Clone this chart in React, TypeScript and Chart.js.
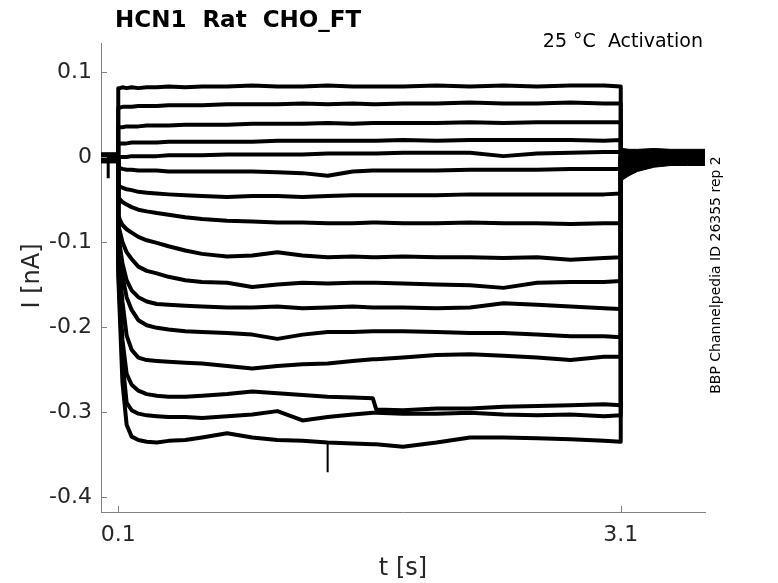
import { useEffect, useRef } from 'react';
import { Chart, registerables } from 'chart.js';

Chart.register(...registerables);

// sample times (s) of the activation step
const stepTimes = [
  0.1, 0.11, 0.125, 0.15, 0.18, 0.22, 0.27, 0.33, 0.4, 0.5, 0.6, 0.75, 0.9, 1.05,
  1.2, 1.35, 1.5, 1.62, 1.64, 1.8, 2.0, 2.2, 2.4, 2.6, 2.8, 3.0, 3.1,
];

// currents (nA) for each voltage step, top to bottom
const trace1 = [0.081, 0.081, 0.082, 0.081, 0.082, 0.081, 0.082, 0.082, 0.083, 0.082, 0.083, 0.083, 0.084, 0.083, 0.083, 0.084, 0.083, 0.083, 0.083, 0.083, 0.084, 0.083, 0.084, 0.083, 0.084, 0.084, 0.083];
const trace2 = [0.058, 0.058, 0.059, 0.059, 0.059, 0.06, 0.06, 0.06, 0.061, 0.061, 0.061, 0.062, 0.062, 0.062, 0.063, 0.062, 0.063, 0.062, 0.062, 0.063, 0.063, 0.064, 0.063, 0.063, 0.064, 0.063, 0.063];
const trace3 = [0.035, 0.035, 0.035, 0.036, 0.036, 0.036, 0.037, 0.037, 0.037, 0.038, 0.038, 0.038, 0.039, 0.039, 0.039, 0.04, 0.039, 0.04, 0.04, 0.04, 0.04, 0.041, 0.04, 0.041, 0.041, 0.041, 0.041];
const trace4 = [0.016, 0.016, 0.016, 0.016, 0.017, 0.017, 0.017, 0.017, 0.018, 0.018, 0.018, 0.018, 0.018, 0.019, 0.019, 0.019, 0.019, 0.019, 0.019, 0.02, 0.019, 0.02, 0.02, 0.02, 0.02, 0.019, 0.02];
const trace5 = [0.0, 0.0, 0.0, 0.0, 0.001, 0.001, 0.001, 0.001, 0.002, 0.002, 0.002, 0.003, 0.003, 0.003, 0.003, 0.004, 0.004, 0.004, 0.004, 0.005, 0.005, 0.005, 0.001, 0.004, 0.005, 0.006, 0.006];
const trace6 = [-0.012, -0.013, -0.014, -0.015, -0.015, -0.016, -0.016, -0.016, -0.017, -0.017, -0.017, -0.017, -0.017, -0.018, -0.019, -0.022, -0.017, -0.016, -0.016, -0.016, -0.016, -0.015, -0.015, -0.015, -0.014, -0.014, -0.014];
const trace7 = [-0.034, -0.035, -0.036, -0.038, -0.039, -0.041, -0.042, -0.043, -0.044, -0.045, -0.046, -0.047, -0.046, -0.046, -0.047, -0.046, -0.045, -0.045, -0.045, -0.045, -0.045, -0.044, -0.044, -0.044, -0.044, -0.044, -0.043];
const trace8 = [-0.047, -0.05, -0.053, -0.056, -0.059, -0.062, -0.064, -0.066, -0.068, -0.071, -0.073, -0.075, -0.076, -0.077, -0.077, -0.078, -0.078, -0.077, -0.077, -0.078, -0.078, -0.077, -0.078, -0.078, -0.079, -0.078, -0.078];
const trace9 = [-0.068, -0.074, -0.08, -0.085, -0.089, -0.094, -0.098, -0.101, -0.105, -0.11, -0.114, -0.117, -0.116, -0.112, -0.116, -0.118, -0.117, -0.118, -0.118, -0.117, -0.118, -0.118, -0.119, -0.118, -0.121, -0.119, -0.118];
const trace10 = [-0.08, -0.088, -0.1, -0.112, -0.12, -0.129, -0.134, -0.137, -0.141, -0.145, -0.147, -0.148, -0.153, -0.15, -0.148, -0.149, -0.148, -0.148, -0.148, -0.149, -0.15, -0.151, -0.154, -0.148, -0.147, -0.147, -0.146];
const trace11 = [-0.092, -0.105, -0.125, -0.145, -0.157, -0.165, -0.17, -0.173, -0.174, -0.175, -0.176, -0.177, -0.177, -0.176, -0.178, -0.177, -0.176, -0.177, -0.177, -0.177, -0.178, -0.177, -0.172, -0.174, -0.176, -0.178, -0.179];
const trace12 = [-0.1, -0.115, -0.14, -0.165, -0.18, -0.192, -0.198, -0.201, -0.203, -0.205, -0.206, -0.207, -0.209, -0.214, -0.209, -0.206, -0.206, -0.205, -0.205, -0.205, -0.206, -0.207, -0.207, -0.209, -0.211, -0.211, -0.212];
const trace13 = [-0.11, -0.135, -0.17, -0.21, -0.227, -0.236, -0.239, -0.24, -0.241, -0.242, -0.243, -0.246, -0.249, -0.246, -0.244, -0.243, -0.24, -0.238, -0.238, -0.236, -0.233, -0.232, -0.234, -0.236, -0.239, -0.235, -0.235];
const trace14 = [-0.12, -0.16, -0.215, -0.255, -0.268, -0.275, -0.279, -0.281, -0.282, -0.282, -0.281, -0.279, -0.276, -0.278, -0.28, -0.282, -0.283, -0.284, -0.297, -0.298, -0.296, -0.296, -0.294, -0.293, -0.292, -0.291, -0.292];
const trace15 = [-0.13, -0.175, -0.24, -0.289, -0.298, -0.302, -0.304, -0.305, -0.306, -0.306, -0.307, -0.305, -0.303, -0.299, -0.31, -0.306, -0.303, -0.301, -0.301, -0.302, -0.302, -0.301, -0.303, -0.304, -0.303, -0.305, -0.304];
const trace16 = [-0.14, -0.19, -0.265, -0.315, -0.329, -0.333, -0.335, -0.336, -0.334, -0.333, -0.33, -0.325, -0.33, -0.333, -0.334, -0.336, -0.337, -0.338, -0.338, -0.341, -0.336, -0.33, -0.33, -0.331, -0.332, -0.334, -0.335];

const traces = [
  trace1, trace2, trace3, trace4, trace5, trace6, trace7, trace8,
  trace9, trace10, trace11, trace12, trace13, trace14, trace15, trace16,
];

const holdingCurrent = 0;
const stepStart = 0.1;
const stepEnd = 3.1;

// holding noise band before the step
const preTimes = [-0.003, 0.1];
const preUpper = [0.005, 0.005];
const preLower = [-0.007, -0.007];
const artifactTimes = [0.04, 0.04];
const artifactCurrents = [-0.003, -0.025];

// noise band after the step (tail)
const postTimes = [3.1, 3.11, 3.15, 3.2, 3.3, 3.4, 3.5, 3.603];
const postUpper = [0.01, 0.01, 0.009, 0.009, 0.01, 0.009, 0.009, 0.009];
const postLower = [-0.03, -0.027, -0.022, -0.017, -0.012, -0.01, -0.01, -0.01];

// glitch on the lowest trace
const spikeTimes = [1.35, 1.35];
const spikeCurrents = [-0.336, -0.371];

const xTicks = [0.1, 3.1];
const xTickLabels = ['0.1', '3.1'];
const yTicks = [-0.4, -0.3, -0.2, -0.1, 0, 0.1];
const yTickLabels = ['-0.4', '-0.3', '-0.2', '-0.1', '0', '0.1'];
const xRange = [-0.003, 3.603];
const yRange = [-0.4177, 0.1341];

const FONT = '"DejaVu Sans", sans-serif';
const AXIS_GREY = '#808080';

const pts = (xs: number[], ys: number[]) => xs.map((x, i) => ({ x, y: ys[i] }));

const overlayPlugin = {
  id: 'overlay',
  afterDraw(chart: any) {
    const { ctx, chartArea, scales } = chart;
    ctx.save();
    // inward tick marks
    ctx.strokeStyle = AXIS_GREY;
    ctx.lineWidth = 1;
    ctx.beginPath();
    scales.y.ticks.forEach((t: any) => {
      const y = Math.round(scales.y.getPixelForValue(t.value)) + 0.5;
      ctx.moveTo(chartArea.left, y);
      ctx.lineTo(chartArea.left + 6, y);
    });
    scales.x.ticks.forEach((t: any) => {
      const x = Math.round(scales.x.getPixelForValue(t.value)) + 0.5;
      ctx.moveTo(x, chartArea.bottom);
      ctx.lineTo(x, chartArea.bottom - 6);
    });
    ctx.stroke();

    // title and annotation
    ctx.fillStyle = '#000';
    ctx.textBaseline = 'alphabetic';
    ctx.textAlign = 'left';
    ctx.font = `bold 23px ${FONT}`;
    ctx.fillText('HCN1  Rat  CHO_FT', 115, 27);
    ctx.textAlign = 'right';
    ctx.font = `19px ${FONT}`;
    ctx.fillText('25 °C  Activation', 703, 47);

    // axis titles
    ctx.fillStyle = '#262626';
    ctx.textAlign = 'center';
    ctx.font = `24px ${FONT}`;
    ctx.fillText('t [s]', 403, 575);
    ctx.save();
    ctx.translate(33, 276);
    ctx.rotate(-Math.PI / 2);
    ctx.textBaseline = 'middle';
    ctx.fillText('I [nA]', 0, 0);
    ctx.restore();

    // side label
    ctx.save();
    ctx.fillStyle = '#000';
    ctx.translate(716, 275);
    ctx.rotate(-Math.PI / 2);
    ctx.textAlign = 'center';
    ctx.textBaseline = 'middle';
    ctx.font = `14px ${FONT}`;
    ctx.fillText('BBP Channelpedia ID 26355 rep 2', 0, 0);
    ctx.restore();
    ctx.restore();
  },
};

export default function App() {
  const canvasRef = useRef<HTMLCanvasElement | null>(null);

  useEffect(() => {
    document.body.style.margin = '0';
    if (!canvasRef.current) return;

    const traceSets = traces.map((values) => ({
      data: [
        { x: stepStart, y: holdingCurrent },
        ...pts(stepTimes, values),
        { x: stepEnd, y: holdingCurrent },
      ],
      borderColor: '#000',
      borderWidth: 4,
      borderJoinStyle: 'round' as const,
      pointRadius: 0,
      fill: false,
    }));

    const chart = new Chart(canvasRef.current, {
      type: 'line',
      data: {
        datasets: [
          {
            data: pts(preTimes, preUpper),
            borderColor: '#000',
            borderWidth: 1,
            backgroundColor: '#000',
            pointRadius: 0,
            fill: '+1',
          },
          {
            data: pts(preTimes, preLower),
            borderColor: '#000',
            borderWidth: 1,
            pointRadius: 0,
            fill: false,
          },
          {
            data: pts(postTimes, postUpper),
            borderColor: '#000',
            borderWidth: 1,
            backgroundColor: '#000',
            pointRadius: 0,
            fill: '+1',
          },
          {
            data: pts(postTimes, postLower),
            borderColor: '#000',
            borderWidth: 1,
            pointRadius: 0,
            fill: false,
          },
          ...traceSets,
          {
            data: pts(artifactTimes, artifactCurrents),
            borderColor: '#000',
            borderWidth: 3,
            pointRadius: 0,
            fill: false,
          },
          {
            data: pts(spikeTimes, spikeCurrents),
            borderColor: '#000',
            borderWidth: 2,
            pointRadius: 0,
            fill: false,
          },
        ],
      },
      options: {
        animation: false,
        responsive: false,
        events: [],
        layout: { padding: { top: 43, right: 73, bottom: 0, left: 0 } },
        plugins: {
          legend: { display: false },
          tooltip: { enabled: false },
          title: { display: false },
        },
        scales: {
          x: {
            type: 'linear',
            min: xRange[0],
            max: xRange[1],
            afterFit: (s: any) => {
              s.height = 71;
            },
            afterBuildTicks: (s: any) => {
              s.ticks = xTicks.map((v) => ({ value: v }));
            },
            grid: { display: false, drawTicks: false },
            border: { display: true, color: AXIS_GREY, width: 1 },
            ticks: {
              autoSkip: false,
              maxRotation: 0,
              padding: 10,
              color: '#262626',
              font: { family: FONT, size: 22 },
              callback: (_v: any, i: number) => xTickLabels[i],
            },
          },
          y: {
            type: 'linear',
            min: yRange[0],
            max: yRange[1],
            afterFit: (s: any) => {
              s.width = 101;
            },
            afterBuildTicks: (s: any) => {
              s.ticks = yTicks.map((v) => ({ value: v }));
            },
            grid: { display: false, drawTicks: false },
            border: { display: true, color: AXIS_GREY, width: 1 },
            ticks: {
              autoSkip: false,
              padding: 9,
              color: '#262626',
              font: { family: FONT, size: 22 },
              callback: (_v: any, i: number) => yTickLabels[i],
            },
          },
        },
      },
      plugins: [overlayPlugin],
    });

    return () => {
      chart.destroy();
    };
  }, []);

  return (
    <div style={{ position: 'fixed', left: 0, top: 0, width: 778, height: 583, background: '#fff' }}>
      <canvas ref={canvasRef} width={778} height={583}></canvas>
    </div>
  );
}
